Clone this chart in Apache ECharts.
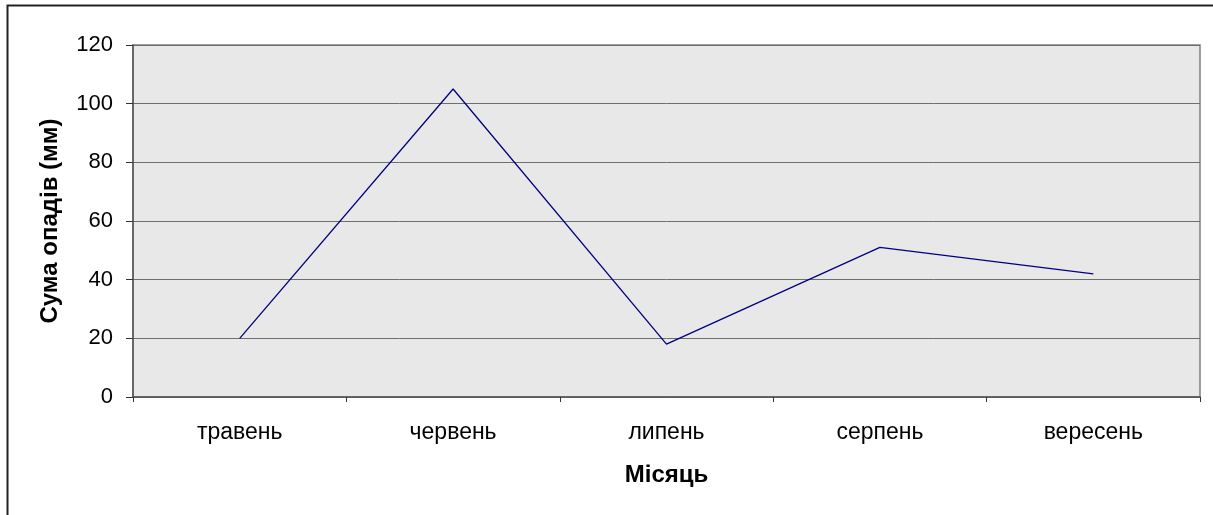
<!DOCTYPE html>
<html>
<head>
<meta charset="utf-8">
<script src="https://cdn.jsdelivr.net/npm/echarts@6/dist/echarts.min.js"></script>
<style>html,body{margin:0;padding:0;background:#fff;}#c{width:1213px;height:515px;}</style>
</head>
<body>
<div id="c"></div>
<script>
const categories = ['травень', 'червень', 'липень', 'серпень', 'вересень'];
const rainfall = [20, 105, 18, 51, 42];
const yTicks = { min: 0, max: 120, interval: 20 };
const xTitle = 'Місяць';
const yTitle = 'Сума опадів (мм)';

const chart = echarts.init(document.getElementById('c'), null, { renderer: 'canvas' });
const font = '"Liberation Sans", Arial, sans-serif';
chart.setOption({
  animation: false,
  backgroundColor: '#fff',
  graphic: [{
    type: 'rect', silent: true, z: 100,
    shape: { x: 7.5, y: 5.5, width: 1300, height: 600 },
    style: { fill: 'none', stroke: '#222', lineWidth: 2 }
  }],
  grid: {
    left: 133, right: 13, top: 45, bottom: 118,
    show: true, backgroundColor: '#e8e8e8', borderColor: '#808080', borderWidth: 1.5
  },
  xAxis: {
    type: 'category', data: categories, boundaryGap: true,
    name: xTitle, nameLocation: 'middle', nameGap: 66,
    nameTextStyle: { fontFamily: font, fontSize: 24, fontWeight: 'bold', color: '#000' },
    axisLine: { lineStyle: { color: '#555', width: 1.5 } },
    axisTick: { show: true, length: 5, alignWithLabel: false, lineStyle: { color: '#333' } },
    axisLabel: { fontFamily: font, fontSize: 23, color: '#000', margin: 24 },
    splitLine: { show: false }
  },
  yAxis: {
    type: 'value', min: yTicks.min, max: yTicks.max, interval: yTicks.interval,
    name: yTitle, nameLocation: 'middle', nameGap: 71, nameRotate: 90,
    nameTextStyle: { fontFamily: font, fontSize: 24, fontWeight: 'bold', color: '#000' },
    axisLine: { show: true, lineStyle: { color: '#555', width: 1.5 } },
    axisTick: { show: true, length: 7, lineStyle: { color: '#333' } },
    axisLabel: { fontFamily: font, fontSize: 22, color: '#000', margin: 20 },
    splitLine: { show: true, lineStyle: { color: '#6e6e6e', width: 1 } }
  },
  series: [{
    type: 'line', data: rainfall, symbol: 'none',
    lineStyle: { color: '#000080', width: 1.3 }
  }]
});
</script>
</body>
</html>
